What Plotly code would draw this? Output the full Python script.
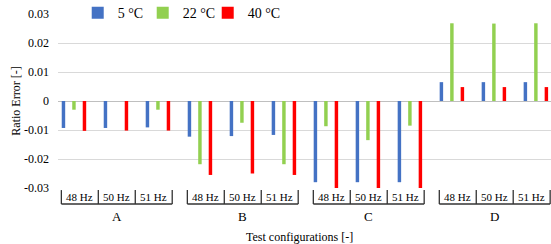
import plotly.graph_objects as go

groups = ["A", "B", "C", "D"]
freqs = ["48 Hz", "50 Hz", "51 Hz"]
series_names = ["5 °C", "22 °C", "40 °C"]
colors = ["#4472C4", "#92D050", "#FF0000"]

# values per (group, frequency) in order A48, A50, A51, B48, ...
v5 = [-0.0093, -0.0093, -0.0091,
      -0.0123, -0.0121, -0.0117,
      -0.0280, -0.0280, -0.0280,
      0.0065, 0.0065, 0.0065]
v22 = [-0.0030, 0.0, -0.0030,
       -0.0218, -0.0075, -0.0218,
       -0.0087, -0.0135, -0.0085,
       0.0268, 0.0267, 0.0268]
v40 = [-0.0103, -0.0102, -0.0102,
       -0.0255, -0.0250, -0.0255,
       -0.0300, -0.0300, -0.0300,
       0.0048, 0.0048, 0.0048]

values = [v5, v22, v40]
xpos = list(range(len(groups) * len(freqs)))

font_family = "Liberation Serif, Times New Roman, serif"

fig = go.Figure()
for name, vals, col in zip(series_names, values, colors):
    fig.add_trace(go.Bar(x=xpos, y=vals, name=name, marker_color=col,
                         marker_line_width=0))
# invisible legend spacer so the last legend label is not clipped
fig.add_trace(go.Scatter(x=[None], y=[None], mode="markers", name=" ",
                         marker=dict(color="rgba(0,0,0,0)", size=1,
                                     line=dict(width=0, color="rgba(0,0,0,0)")),
                         hoverinfo="skip"))

# multi-level category labels (boxes)
sub_w = 0.88
shapes = []
annotations = []
y_top, y_bot = -0.012, -0.092
for gi, g in enumerate(groups):
    start = gi * len(freqs) - 0.3
    for k in range(len(freqs) + 1):
        xv = start + k * sub_w
        shapes.append(dict(type="line", xref="x", yref="paper", x0=xv, x1=xv,
                           y0=y_top, y1=y_bot, line=dict(color="#333", width=1.3)))
    shapes.append(dict(type="line", xref="x", yref="paper", x0=start,
                       x1=start + len(freqs) * sub_w, y0=y_bot, y1=y_bot,
                       line=dict(color="#333", width=1.3)))
    for k, f in enumerate(freqs):
        annotations.append(dict(text=f, xref="x", yref="paper",
                                x=start + (k + 0.5) * sub_w, y=-0.05,
                                showarrow=False, yanchor="middle",
                                font=dict(size=11, color="#000", family=font_family)))
    annotations.append(dict(text=g, xref="x", yref="paper",
                            x=start + len(freqs) * sub_w / 2, y=-0.165,
                            showarrow=False, yanchor="middle",
                            font=dict(size=13, color="#000", family=font_family)))

annotations.append(dict(text="Test configurations [-]", xref="paper", yref="paper",
                        x=0.49, y=-0.28, showarrow=False, yanchor="middle",
                        font=dict(size=12, color="#000", family=font_family)))

fig.update_layout(
    width=551, height=244,
    margin=dict(l=58, r=0, t=14, b=56, autoexpand=False),
    plot_bgcolor="white", paper_bgcolor="white",
    barmode="group", bargap=0.25, bargroupgap=0.67,
    font=dict(family=font_family, color="#000"),
    showlegend=True,
    legend=dict(orientation="h", x=0.04, y=1.005, xanchor="left", yanchor="middle",
                font=dict(size=14, family=font_family), bgcolor="rgba(0,0,0,0)",
                entrywidth=20, entrywidthmode="pixels", traceorder="normal"),
    xaxis=dict(range=[-0.38, 11.36], showticklabels=False, showgrid=False,
               zeroline=False, showline=False, ticks="", automargin=False),
    yaxis=dict(range=[-0.03, 0.03], showgrid=True, automargin=False,
               gridcolor="#d9d9d9", gridwidth=1, zeroline=True, zerolinecolor="#bfbfbf",
               zerolinewidth=1, showline=False, ticks="", ticklabelstandoff=8,
               tickfont=dict(size=12, color="#000", family=font_family),
               tickvals=[-0.03, -0.02, -0.01, 0, 0.01, 0.02, 0.03],
               ticktext=["-0.03", "-0.02", "-0.01", "0", "0.01", "0.02", "0.03"],
               title=dict(text="Ratio Error [-]", standoff=0,
                          font=dict(size=12, color="#000", family=font_family))),
    shapes=shapes, annotations=annotations,
)

fig.write_html("out.html", config={"displayModeBar": False},
               post_script="document.body.style.margin='0';")
